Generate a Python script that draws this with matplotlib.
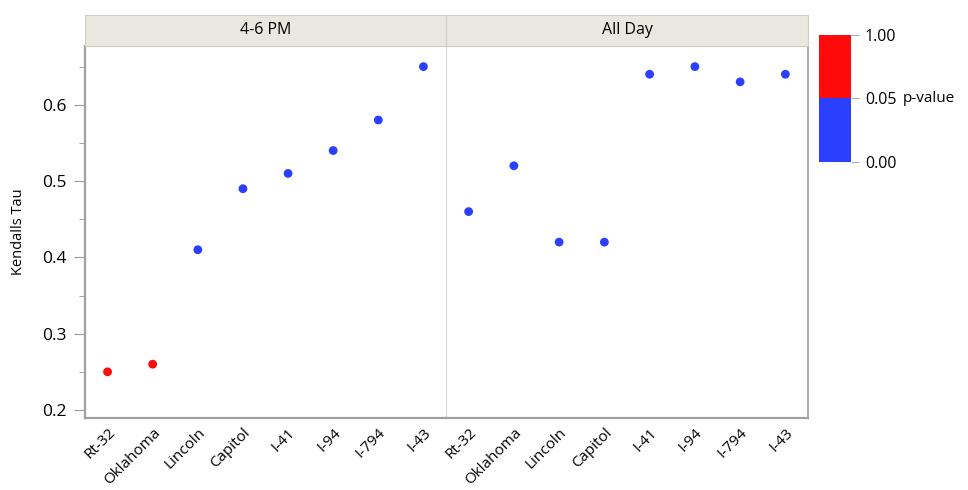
import numpy as np
import matplotlib.pyplot as plt
from matplotlib.colors import ListedColormap, BoundaryNorm

plt.rcParams['font.family'] = ['Open Sans', 'DejaVu Sans']

sites = ['Rt-32', 'Oklahoma', 'Lincoln', 'Capitol', 'I-41', 'I-94', 'I-794', 'I-43']
panels = ['4-6 PM', 'All Day']
tau_peak = [0.25, 0.26, 0.41, 0.49, 0.51, 0.54, 0.58, 0.65]
tau_allday = [0.46, 0.52, 0.42, 0.42, 0.64, 0.65, 0.63, 0.64]
p_peak = [0.09, 0.08, 0.01, 0.002, 0.001, 0.001, 0.001, 0.0005]
p_allday = [0.001, 0.0005, 0.003, 0.003, 0.0001, 0.0001, 0.0001, 0.0001]

RED = '#ff0a0a'
BLUE = '#2b3fff'
W, H = 968, 490

fig = plt.figure(figsize=(W / 100, H / 100), dpi=100)


def px_axes(x0, y0, x1, y1):
    return fig.add_axes([x0 / W, 1 - y1 / H, (x1 - x0) / W, (y1 - y0) / H])


ylim = (0.1895, 0.677)
edges = [85, 446, 808]
for i, (name, tau, p) in enumerate(zip(panels, [tau_peak, tau_allday], [p_peak, p_allday])):
    ax = px_axes(edges[i], 46, edges[i + 1], 418)
    x = np.arange(len(sites))
    cols = [RED if v > 0.05 else BLUE for v in p]
    ax.scatter(x, tau, c=cols, s=40, zorder=3, linewidths=0)
    ax.set_xlim(-0.5, len(sites) - 0.5)
    ax.set_ylim(*ylim)
    ax.set_xticks(x)
    ax.set_xticklabels(sites, rotation=45, ha='right', rotation_mode='anchor', fontsize=11)
    ax.tick_params(axis='x', length=0, pad=5)
    for s in ax.spines.values():
        s.set_color('#c8c8c8')
        s.set_linewidth(0.8)
    ax.spines['top'].set_visible(False)
    ax.spines['bottom'].set_color('#a0a0a0')
    ax.spines['bottom'].set_linewidth(1.6)
    if i == 0:
        ax.spines['left'].set_color('#a0a0a0')
        ax.spines['left'].set_linewidth(1.6)
        ax.spines['right'].set_visible(False)
        ax.set_yticks([0.2, 0.3, 0.4, 0.5, 0.6])
        ax.set_yticks([0.25, 0.35, 0.45, 0.55, 0.65], minor=True)
        ax.tick_params(axis='y', which='major', length=8, color='#999999', labelsize=12.5, pad=5)
        ax.tick_params(axis='y', which='minor', length=4, color='#999999')
        ax.set_ylabel('Kendalls Tau', fontsize=10.5, labelpad=12)
    else:
        ax.spines['left'].set_color('#d8d8d8')
        ax.spines['right'].set_color('#a0a0a0')
        ax.spines['right'].set_linewidth(1.2)
        ax.set_yticks([])

    hdr = px_axes(edges[i], 15, edges[i + 1], 46)
    hdr.set_xticks([])
    hdr.set_yticks([])
    hdr.set_facecolor('#e9e7de')
    for s in hdr.spines.values():
        s.set_color('#d0cec4')
    hdr.text(0.5, 0.5, name, ha='center', va='center', fontsize=11.5, transform=hdr.transAxes)

# p-value legend
cax = px_axes(819, 35, 851, 162)
cmap = ListedColormap([BLUE, RED])
norm = BoundaryNorm([0, 0.5, 1], 2)
cax.imshow(np.array([[1], [0]]), cmap=cmap, norm=norm, aspect='auto', extent=(0, 1, 0, 1))
cax.set_xticks([])
cax.yaxis.tick_right()
cax.set_yticks([0, 0.5, 1])
cax.set_yticklabels(['0.00', '0.05', '1.00'], fontsize=11.5)
cax.tick_params(axis='y', length=6, color='#aaaaaa', pad=4)
for s in cax.spines.values():
    s.set_visible(False)
fig.text(903 / W, 1 - 99 / H, 'p-value', ha='left', va='center', fontsize=11)

fig.savefig('out.png', dpi=100)
